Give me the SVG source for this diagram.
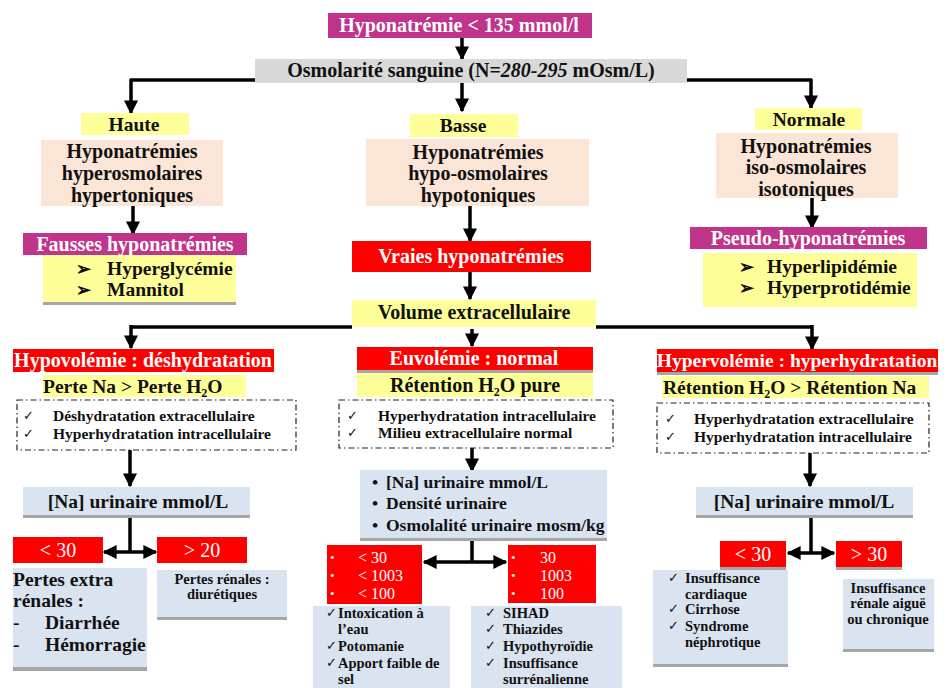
<svg xmlns="http://www.w3.org/2000/svg" width="951" height="688" viewBox="0 0 951 688">
<defs>
<marker id="ah" viewBox="0 0 10 10" refX="9" refY="5" markerWidth="4" markerHeight="4" orient="auto-start-reverse" markerUnits="strokeWidth">
<path d="M0,0 L10,5 L0,10 z" fill="#000"/>
</marker>
</defs>
<style>
text{font-family:"Liberation Serif","Times New Roman",serif;font-weight:bold;fill:#111}
.w{fill:#fff}
.c{text-anchor:middle}
.mag{fill:#C0348B}
.gry{fill:#D9D9D9}
.yel{fill:#FFFF99}
.pch{fill:#FBE5D6}
.red{fill:#FF0000}
.blu{fill:#DAE3F0}
.sh{fill:#A6A6A6}
.dd{fill:#fff;stroke:#222;stroke-width:1.2;stroke-dasharray:6 3 1.5 3}
.ln{stroke:#000;stroke-width:3.5;fill:none}
.ar{stroke:#000;stroke-width:3.5;fill:none;marker-end:url(#ah)}
.ar2{stroke:#000;stroke-width:3.5;fill:none;marker-end:url(#ah);marker-start:url(#ah)}
.f20{font-size:20px}.f19{font-size:19.5px}.f17{font-size:17.5px}.f16{font-size:16px}.f15{font-size:15.5px}.f14{font-size:14.5px}.f13{font-size:13px}
.reg{font-weight:normal}
</style>

<g id="connectors">
<line class="ln" x1="130" y1="80" x2="812" y2="80"/>
<line class="ar" x1="462" y1="38" x2="462" y2="59"/>
<line class="ar" x1="131" y1="79" x2="131" y2="113"/>
<line class="ar" x1="462" y1="83" x2="462" y2="111"/>
<line class="ar" x1="811" y1="79" x2="811" y2="108"/>
<line class="ar" x1="133" y1="206" x2="133" y2="234"/>
<line class="ar" x1="470" y1="206" x2="470" y2="241"/>
<line class="ar" x1="812" y1="198" x2="812" y2="228"/>
<line class="ar" x1="470" y1="272" x2="470" y2="299"/>
<line class="ln" x1="131" y1="327" x2="352" y2="327"/>
<line class="ln" x1="596" y1="327" x2="812" y2="327"/>
<line class="ar" x1="131" y1="325" x2="131" y2="348"/>
<line class="ar" x1="812" y1="325" x2="812" y2="349"/>
<line class="ar" x1="472" y1="329" x2="472" y2="346"/>
<line class="ar" x1="130" y1="450" x2="130" y2="486"/>
<line class="ar" x1="472" y1="448" x2="472" y2="471"/>
<line class="ar" x1="810" y1="453" x2="810" y2="486"/>
<line class="ln" x1="130" y1="515" x2="130" y2="552"/>
<line class="ar2" x1="104" y1="552" x2="156" y2="552"/>
<line class="ln" x1="472" y1="538" x2="472" y2="562"/>
<line class="ar2" x1="424" y1="562" x2="506" y2="562"/>
<line class="ln" x1="811" y1="515" x2="811" y2="553"/>
<line class="ar2" x1="788" y1="553" x2="834" y2="553"/>
</g>

<g id="n-hypo">
<rect class="mag" x="328" y="13" width="264" height="25"/>
<text class="w c f20" x="459" y="32">Hyponatrémie &lt; 135 mmol/l</text>
</g>
<g id="n-osmo">
<rect class="gry" x="255" y="59" width="432" height="24"/>
<text class="c f20" x="471" y="77">Osmolarité sanguine (N=<tspan font-style="italic">280-295</tspan> mOsm/L)</text>
</g>

<g id="n-haute">
<rect class="yel" x="81" y="113" width="108" height="22"/>
<text class="c f19" x="134" y="131">Haute</text>
</g>
<g id="n-hyper">
<rect class="pch" x="41" y="140" width="182" height="66"/>
<text class="c f20" x="132" y="158">Hyponatrémies</text>
<text class="c f20" x="132" y="180">hyperosmolaires</text>
<text class="c f20" x="132" y="202">hypertoniques</text>
</g>
<g id="n-fausses">
<rect class="mag" x="23" y="233" width="224" height="22"/>
<text class="w c f20" x="135" y="251">Fausses hyponatrémies</text>
</g>
<g id="n-fausses-list">
<rect class="sh" x="43" y="257" width="193" height="48"/>
<rect class="yel" x="43" y="255" width="193" height="47"/>
<text class="f17" x="76" y="275">➢</text><text class="f19" x="107" y="275">Hyperglycémie</text>
<text class="f17" x="76" y="296">➢</text><text class="f19" x="107" y="296">Mannitol</text>
</g>

<g id="n-basse">
<rect class="yel" x="410" y="114" width="108" height="23"/>
<text class="c f19" x="463" y="132">Basse</text>
</g>
<g id="n-hypoosm">
<rect class="pch" x="366" y="139" width="223" height="67"/>
<text class="c f20" x="478" y="159">Hyponatrémies</text>
<text class="c f20" x="478" y="180">hypo-osmolaires</text>
<text class="c f20" x="478" y="202">hypotoniques</text>
</g>
<g id="n-vraies">
<rect class="red" x="352" y="241" width="239" height="31"/>
<text class="w c f20" x="471" y="263">Vraies hyponatrémies</text>
</g>
<g id="n-volume">
<rect class="yel" x="352" y="300" width="244" height="27"/>
<text class="c f20" x="474" y="319">Volume extracellulaire</text>
</g>

<g id="n-normale">
<rect class="yel" x="755" y="108" width="107" height="22"/>
<text class="c f19" x="809" y="126">Normale</text>
</g>
<g id="n-iso">
<rect class="pch" x="716" y="133" width="182" height="65"/>
<text class="c f20" x="806" y="153">Hyponatrémies</text>
<text class="c f20" x="806" y="174">iso-osmolaires</text>
<text class="c f20" x="806" y="196">isotoniques</text>
</g>
<g id="n-pseudo">
<rect class="mag" x="690" y="227" width="237" height="22"/>
<text class="w c f20" x="808" y="245">Pseudo-hyponatrémies</text>
</g>
<g id="n-pseudo-list">
<rect class="yel" x="703" y="253" width="214" height="54"/>
<text class="f17" x="739" y="273">➢</text><text class="f19" x="767" y="273">Hyperlipidémie</text>
<text class="f17" x="739" y="294">➢</text><text class="f19" x="767" y="294">Hyperprotidémie</text>
</g>

<g id="n-hypovol">
<rect class="red" x="13" y="349" width="261" height="23"/>
<text class="w c f20" x="143" y="367">Hypovolémie : déshydratation</text>
</g>
<g id="n-perte">
<rect class="yel" x="43" y="375" width="203" height="22"/>
<text class="f19" x="43" y="393">Perte Na &gt; Perte H<tspan font-size="12" dy="4">2</tspan><tspan dy="-4">O</tspan></text>
</g>
<g id="n-hypovol-box">
<rect class="dd" x="17" y="400" width="279" height="50"/>
<text class="f13 reg" x="23" y="420">✓</text><text class="f15" x="53" y="421">Déshydratation  extracellulaire</text>
<text class="f13 reg" x="23" y="438">✓</text><text class="f15" x="53" y="439">Hyperhydratation intracellulaire</text>
</g>
<g id="n-na1">
<rect class="sh" x="23" y="487" width="227" height="31"/>
<rect class="blu" x="23" y="487" width="227" height="28"/>
<text class="c f19" x="138" y="508">[Na] urinaire mmol/L</text>
</g>
<g id="n-lt30a">
<rect class="red" x="13" y="537" width="90" height="26"/>
<text class="w c f20 reg" x="58" y="557">&lt; 30</text>
</g>
<g id="n-gt20">
<rect class="red" x="157" y="537" width="90" height="26"/>
<text class="w c f20 reg" x="202" y="557">&gt; 20</text>
</g>
<g id="n-extra">
<rect class="sh" x="13" y="568" width="134" height="103"/>
<rect class="blu" x="13" y="568" width="134" height="99"/>
<text class="f19" x="13" y="586">Pertes extra</text>
<text class="f19" x="13" y="607">rénales :</text>
<text class="f19" x="13" y="629">-</text><text class="f19" x="45" y="629">Diarrhée</text>
<text class="f19" x="13" y="651">-</text><text class="f19" x="45" y="651">Hémorragie</text>
</g>
<g id="n-renales">
<rect class="sh" x="157" y="570" width="130" height="50"/>
<rect class="blu" x="157" y="570" width="130" height="47"/>
<text class="c f14" x="222" y="584">Pertes rénales :</text>
<text class="c f14" x="222" y="599">diurétiques</text>
</g>

<g id="n-euvol">
<rect class="sh" x="357" y="347" width="236" height="26"/>
<rect class="red" x="357" y="347" width="236" height="23"/>
<text class="w c f20" x="474" y="365">Euvolémie : normal</text>
</g>
<g id="n-retention">
<rect class="yel" x="357" y="373" width="236" height="24"/>
<text class="c f20" x="475" y="392">Rétention H<tspan font-size="12" dy="4">2</tspan><tspan dy="-4">O pure</tspan></text>
</g>
<g id="n-euvol-box">
<rect class="dd" x="339" y="400" width="274" height="48"/>
<text class="f13 reg" x="347" y="420">✓</text><text class="f15" x="378" y="421">Hyperhydratation intracellulaire</text>
<text class="f13 reg" x="347" y="437">✓</text><text class="f15" x="378" y="438">Milieu extracellulaire normal</text>
</g>
<g id="n-urine">
<rect class="sh" x="360" y="470" width="247" height="71"/>
<rect class="blu" x="360" y="470" width="247" height="68"/>
<text class="f17" x="372" y="488">•</text><text class="f17" x="386" y="488">[Na] urinaire mmol/L</text>
<text class="f17" x="372" y="509">•</text><text class="f17" x="386" y="509">Densité urinaire</text>
<text class="f17" x="372" y="531">•</text><text class="f17" x="386" y="531">Osmolalité urinaire mosm/kg</text>
</g>
<g id="n-lt-vals">
<rect class="red" x="327" y="545" width="95" height="59"/>
<text class="w f13 reg" x="330" y="562">•</text><text class="w f16 reg" x="358" y="563">&lt; 30</text>
<text class="w f13 reg" x="330" y="580">•</text><text class="w f16 reg" x="358" y="581">&lt; 1003</text>
<text class="w f13 reg" x="330" y="598">•</text><text class="w f16 reg" x="358" y="599">&lt; 100</text>
</g>
<g id="n-gt-vals">
<rect class="red" x="508" y="545" width="88" height="58"/>
<text class="w f13 reg" x="511" y="562">•</text><text class="w f16 reg" x="540" y="563">30</text>
<text class="w f13 reg" x="511" y="580">•</text><text class="w f16 reg" x="540" y="581">1003</text>
<text class="w f13 reg" x="511" y="598">•</text><text class="w f16 reg" x="540" y="599">100</text>
</g>
<g id="n-intox">
<rect class="blu" x="313" y="606" width="137" height="82"/>
<text class="f13 reg" x="326" y="617">✓</text><text class="f14" x="338" y="618">Intoxication à</text>
<text class="f14" x="338" y="634">l’eau</text>
<text class="f13 reg" x="326" y="650">✓</text><text class="f14" x="338" y="651">Potomanie</text>
<text class="f13 reg" x="326" y="667">✓</text><text class="f14" x="338" y="668">Apport faible de</text>
<text class="f14" x="338" y="684">sel</text>
</g>
<g id="n-sihad">
<rect class="blu" x="471" y="606" width="151" height="82"/>
<text class="f13 reg" x="485" y="617">✓</text><text class="f14" x="503" y="618">SIHAD</text>
<text class="f13 reg" x="485" y="633">✓</text><text class="f14" x="503" y="634">Thiazides</text>
<text class="f13 reg" x="485" y="650">✓</text><text class="f14" x="503" y="651">Hypothyroïdie</text>
<text class="f13 reg" x="485" y="667">✓</text><text class="f14" x="503" y="668">Insuffisance</text>
<text class="f14" x="503" y="684">surrénalienne</text>
</g>

<g id="n-hypervol">
<rect class="sh" x="657" y="349" width="281" height="26"/>
<rect class="red" x="657" y="349" width="281" height="23"/>
<text class="w c f19" x="797" y="367">Hypervolémie : hyperhydratation</text>
</g>
<g id="n-ret2">
<rect class="yel" x="662" y="376" width="267" height="22"/>
<text class="f19" x="663" y="394">Rétention H<tspan font-size="12" dy="4">2</tspan><tspan dy="-4">O &gt; Rétention Na</tspan></text>
</g>
<g id="n-hypervol-box">
<rect class="dd" x="657" y="403" width="272" height="50"/>
<text class="f13 reg" x="665" y="423">✓</text><text class="f15" x="694" y="424">Hyperhydratation extracellulaire</text>
<text class="f13 reg" x="665" y="441">✓</text><text class="f15" x="694" y="442">Hyperhydratation intracellulaire</text>
</g>
<g id="n-na3">
<rect class="sh" x="696" y="487" width="217" height="31"/>
<rect class="blu" x="696" y="487" width="217" height="28"/>
<text class="c f19" x="804" y="508">[Na] urinaire mmol/L</text>
</g>
<g id="n-lt30c">
<rect class="sh" x="720" y="541" width="66" height="29"/>
<rect class="red" x="720" y="541" width="66" height="26"/>
<text class="w c f20 reg" x="753" y="561">&lt; 30</text>
</g>
<g id="n-gt30">
<rect class="sh" x="836" y="541" width="66" height="29"/>
<rect class="red" x="836" y="541" width="66" height="26"/>
<text class="w c f20 reg" x="869" y="561">&gt; 30</text>
</g>
<g id="n-cardiac">
<rect class="sh" x="653" y="570" width="135" height="97"/>
<rect class="blu" x="653" y="570" width="135" height="94"/>
<text class="f13 reg" x="668" y="582">✓</text><text class="f14" x="685" y="583">Insuffisance</text>
<text class="f14" x="685" y="599">cardiaque</text>
<text class="f13 reg" x="668" y="613">✓</text><text class="f14" x="685" y="614">Cirrhose</text>
<text class="f13 reg" x="668" y="630">✓</text><text class="f14" x="685" y="631">Syndrome</text>
<text class="f14" x="685" y="647">néphrotique</text>
</g>
<g id="n-ira">
<rect class="sh" x="843" y="579" width="91" height="73"/>
<rect class="blu" x="843" y="579" width="91" height="70"/>
<text class="c f14" x="888" y="593">Insuffisance</text>
<text class="c f14" x="888" y="608">rénale aiguë</text>
<text class="c f14" x="888" y="624">ou chronique</text>
</g>
</svg>
